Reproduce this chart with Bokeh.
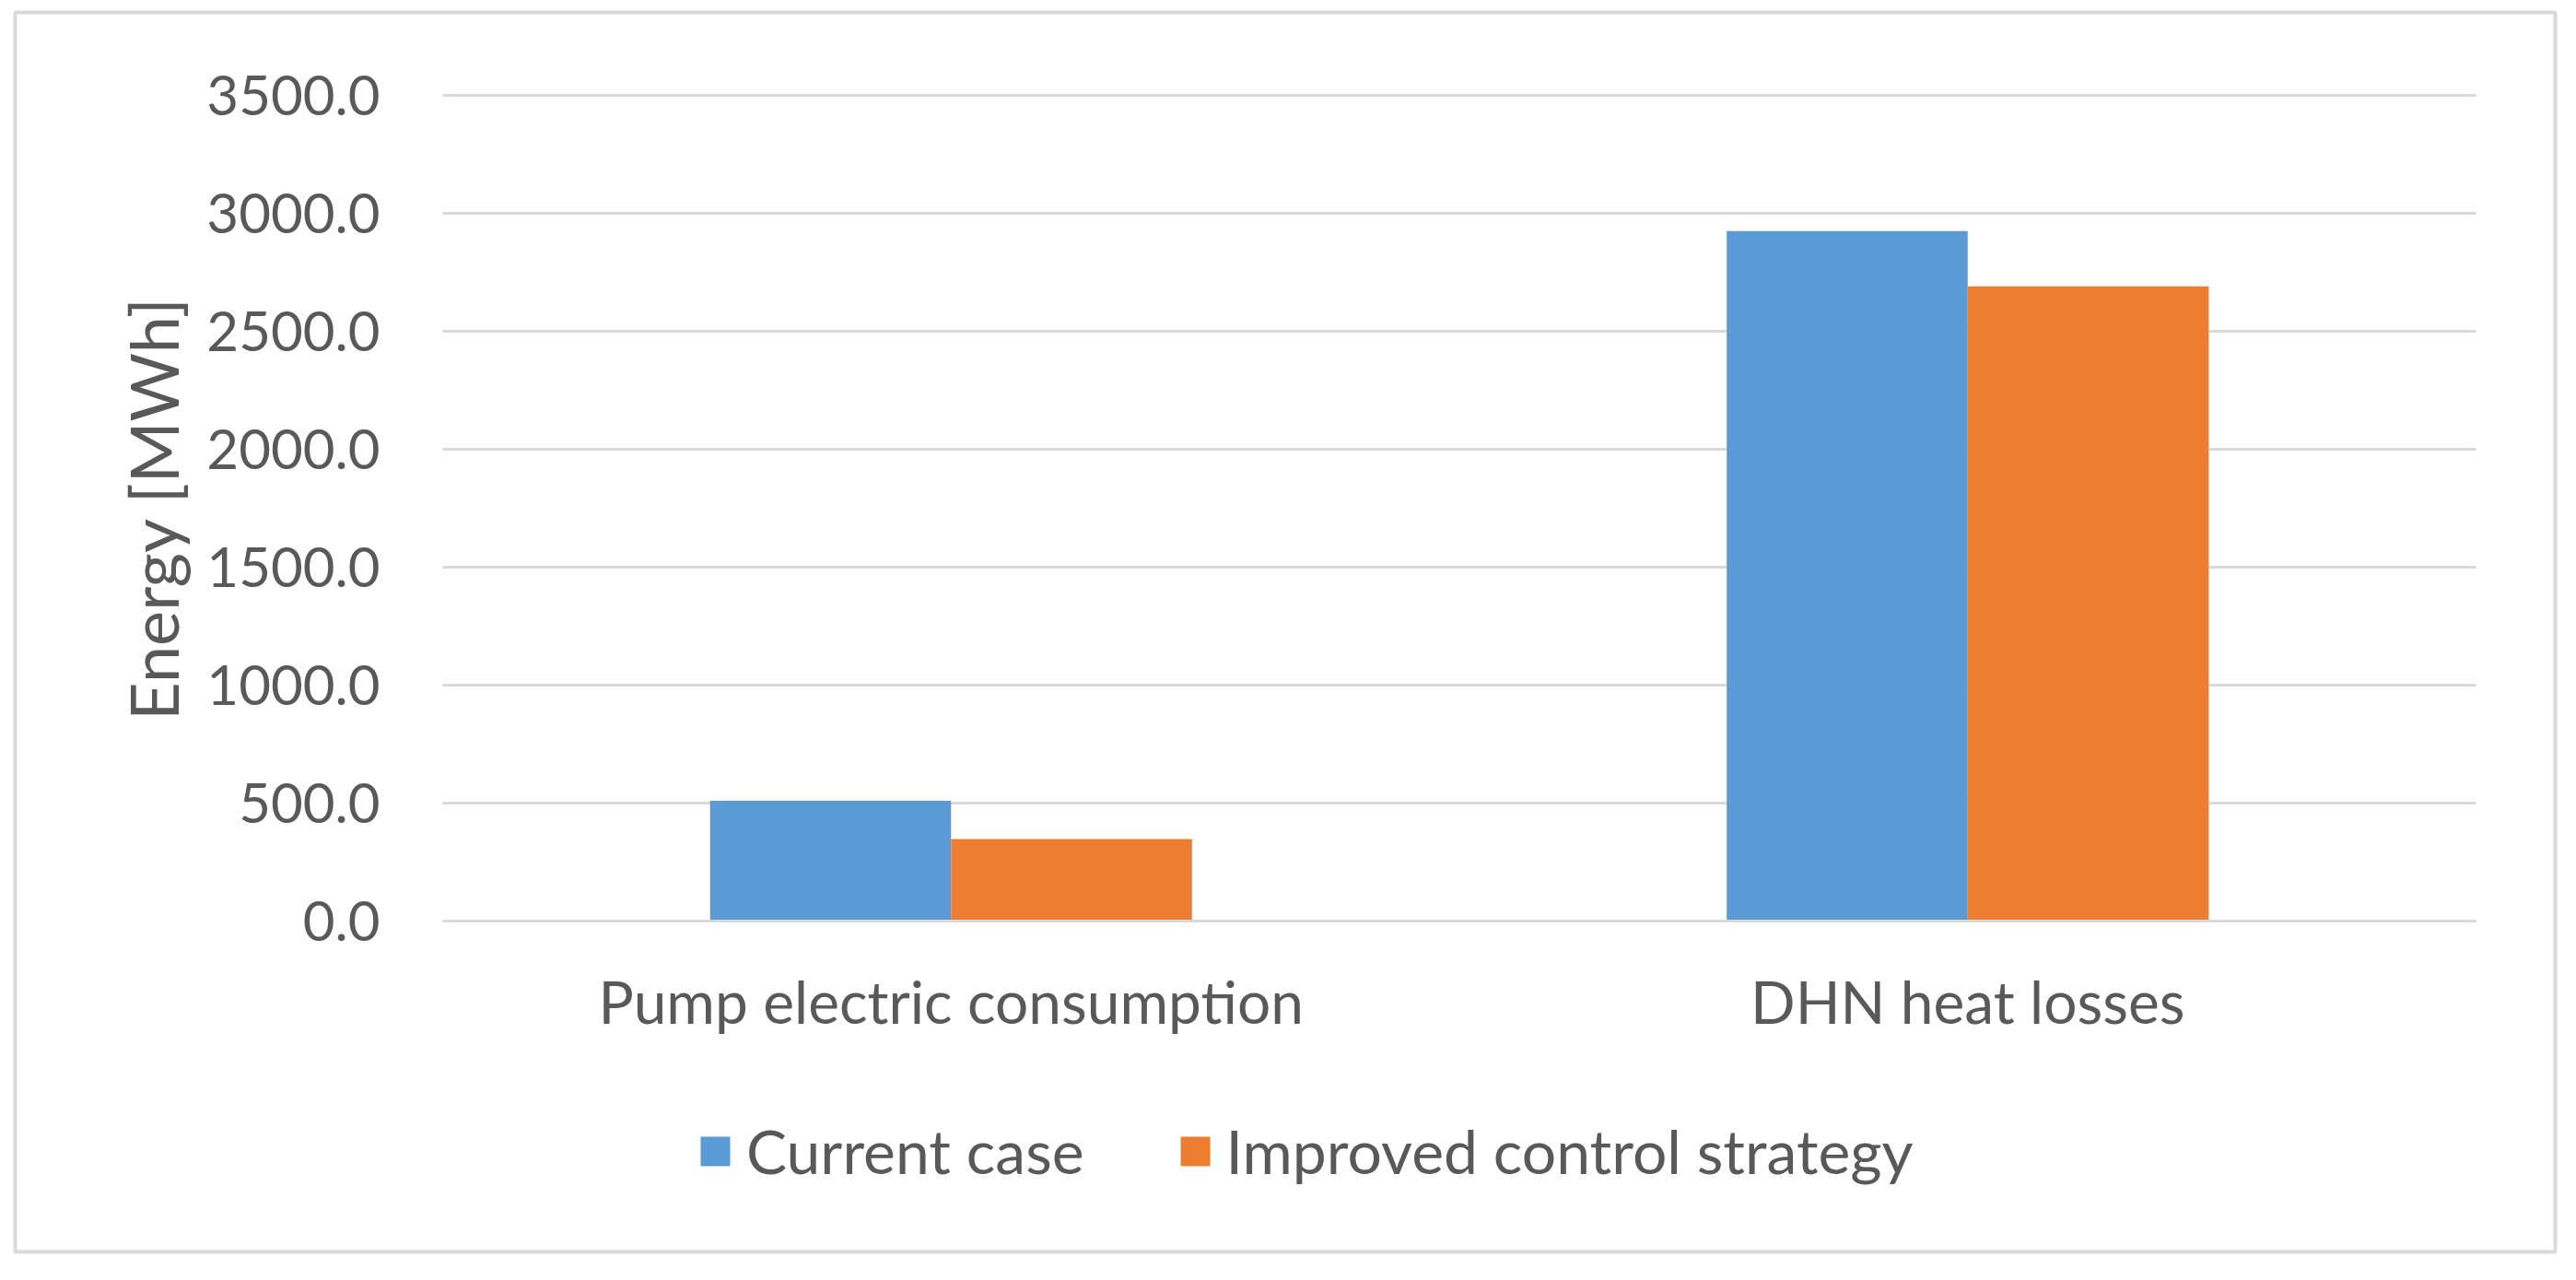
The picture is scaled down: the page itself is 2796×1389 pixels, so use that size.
from bokeh.plotting import figure
from bokeh.models import (Range1d, FixedTicker, NumeralTickFormatter,
                          Legend, LegendItem, ColumnDataSource)
from bokeh.transform import dodge
from bokeh.embed import file_html
from bokeh.resources import INLINE

# ---- data ----
categories = ["Pump electric consumption", "DHN heat losses"]
series_names = ["Current case", "Improved control strategy"]
current_case = [510.0, 2925.0]
improved_strategy = [348.0, 2690.0]
y_ticks = [0, 500, 1000, 1500, 2000, 2500, 3000, 3500]
y_label = "Energy [MWh]"

# ---- style / layout constants (page pixels) ----
FONT = "Lato"
TEXT = "#595959"
GRID = "#d9d9d9"
BLUE = "#5B9BD5"
ORANGE = "#ED7D31"
W, H = 2780, 1373                       # canvas, placed at page (8, 8)
BOX_L, BOX_T, BOX_R, BOX_B = 24, 21, 2781, 1366   # chart border (centre of line)
PLOT_L, PLOT_R, PLOT_T, PLOT_B = 488, 2695, 111, 1007  # plot area

n = len(categories)
y_max = max(y_ticks)
px_cat = (PLOT_R - PLOT_L) / n
ppu = (PLOT_B - PLOT_T) / y_max
x_range = Range1d(-(PLOT_L - BOX_L) / px_cat, n + (BOX_R - PLOT_R) / px_cat)
y_range = Range1d(-(BOX_B - PLOT_B) / ppu, y_max + (PLOT_T - BOX_T) / ppu)

centers = [i + 0.5 for i in range(n)]
source = ColumnDataSource(dict(xc=centers, cat=categories,
                               current=current_case, improved=improved_strategy))

p = figure(x_range=x_range, y_range=y_range, width=W, height=H,
           output_backend="svg", toolbar_location=None,
           min_border_left=BOX_L - 8, min_border_top=BOX_T - 8,
           min_border_right=8 + W - BOX_R, min_border_bottom=8 + H - BOX_B)

bw = 0.237
r1 = p.vbar(x=dodge("xc", -bw / 2), top="current", width=bw,
            source=source, fill_color=BLUE, line_color=None)
r2 = p.vbar(x=dodge("xc", bw / 2), top="improved", width=bw,
            source=source, fill_color=ORANGE, line_color=None)

p.background_fill_color = "white"
p.border_fill_color = "white"
p.outline_line_color = GRID
p.outline_line_width = 4

p.xgrid.grid_line_color = None
p.ygrid.ticker = FixedTicker(ticks=y_ticks)
p.ygrid.grid_line_color = GRID
p.ygrid.grid_line_width = 3
p.ygrid.cross_bounds = (0, n)

yax = p.yaxis[0]
yax.fixed_location = 0
yax.bounds = (0, y_max)
yax.ticker = FixedTicker(ticks=y_ticks)
yax.formatter = NumeralTickFormatter(format="0.0")
yax.axis_line_color = None
yax.major_tick_line_color = None
yax.minor_tick_line_color = None
yax.major_tick_out = 0
yax.major_tick_in = 0
yax.major_label_standoff = 68
yax.major_label_text_font = FONT
yax.major_label_text_font_size = "60px"
yax.major_label_text_color = TEXT
yax.axis_label = y_label
yax.axis_label_text_font = FONT
yax.axis_label_text_font_size = "72px"
yax.axis_label_text_font_style = "normal"
yax.axis_label_text_color = TEXT
yax.axis_label_standoff = 12

xax = p.xaxis[0]
xax.fixed_location = 0
xax.bounds = (0, n)
xax.ticker = FixedTicker(ticks=centers)
xax.major_label_overrides = {c: lab for c, lab in zip(centers, categories)}
xax.axis_line_color = GRID
xax.axis_line_width = 3
xax.major_tick_line_color = None
xax.minor_tick_line_color = None
xax.major_tick_out = 0
xax.major_tick_in = 0
xax.major_label_standoff = 48
xax.major_label_text_font = FONT
xax.major_label_text_font_size = "64px"
xax.major_label_text_color = TEXT

legend = Legend(items=[LegendItem(label=series_names[0], renderers=[r1]),
                       LegendItem(label=series_names[1], renderers=[r2])],
                orientation="horizontal", location=(764 - BOX_L, BOX_B - 1296),
                glyph_width=40, glyph_height=40, label_height=40, label_standoff=14,
                spacing=100, padding=0, margin=0,
                border_line_color=None, background_fill_alpha=0,
                label_text_font=FONT, label_text_font_size="66px", label_text_color=TEXT)
p.add_layout(legend, "center")

open("out.html", "w").write(file_html(p, INLINE))
